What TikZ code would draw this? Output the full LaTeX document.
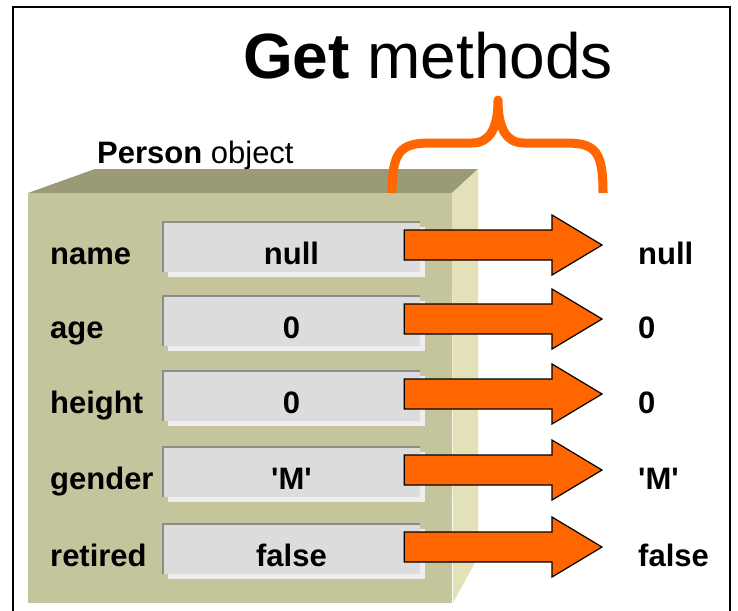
\documentclass[tikz,border=0pt]{standalone}
\usepackage{fontspec}
\setmainfont{Liberation Sans}
\definecolor{boxfront}{HTML}{C4C59D}
\definecolor{boxtop}{HTML}{9A9A79}
\definecolor{boxside}{HTML}{E2E1B7}
\definecolor{slotgrey}{HTML}{DCDCDC}
\definecolor{slotedge}{HTML}{8C8C8C}
\definecolor{slotshade}{HTML}{EEEEEE}
\definecolor{getorange}{HTML}{FF6600}
\tikzset{
  field/.style={font=\fontsize{31}{31}\selectfont\bfseries, inner sep=0pt, text height=34pt, text depth=0pt},
  slot/.style={field, fill=slotgrey, minimum width=257pt, minimum height=50pt},
  blockarrow/.style={fill=getorange, draw=black, line width=1.2pt, line join=miter},
}

\begin{document}
\begin{tikzpicture}[x=1pt,y=-1pt]
  \useasboundingbox (0,0) rectangle (738,610);
  \draw[line width=2.5pt] (13,612) -- (13,7) -- (730,7) -- (730,612);
  \node[anchor=base, inner sep=0pt, font=\fontsize{64}{64}\selectfont] (title) at (428,78) {\textbf{Get} methods};
  \node[anchor=base west, inner sep=0pt, font=\fontsize{31}{31}\selectfont] (obj) at (97,163) {\textbf{Person} object};
  \fill[boxtop] (28,193) -- (95,169) -- (478,169) -- (452,193) -- cycle;
  \fill[boxside] (452,193) -- (478,169) -- (478,557) -- (453,603) -- cycle;
  \fill[boxfront] (28,193) rectangle (452,603);
  \foreach \y/\n/\v [count=\i] in {247/name/null, 321/age/0, 396/height/0, 472/gender/{\textquotesingle M\textquotesingle}, 549/retired/false} {
    \fill[slotshade] (168,\y-20) rectangle (425,\y+30);
    \node[slot] (s\i) at (291.5,\y) {\v};
    \draw[slotedge, line width=2pt] (s\i.south west) -- (s\i.north west) -- (s\i.north east);
    \node[field, anchor=west] (l\i) at (50,\y) {\n};
    \node[field, anchor=west] (v\i) at (638,\y) {\v};
    \coordinate (t\i) at (602,\y-2);
    \coordinate (a\i) at (t\i -| s\i.east);
    \draw[blockarrow] ([xshift=-16pt,yshift=15pt]a\i) -- ([xshift=-50pt,yshift=15pt]t\i) -- ([xshift=-50pt,yshift=30pt]t\i) -- (t\i)
      -- ([xshift=-50pt,yshift=-30pt]t\i) -- ([xshift=-50pt,yshift=-15pt]t\i) -- ([xshift=-16pt,yshift=-15pt]a\i) -- cycle;
  }
  \draw[getorange, line width=9pt, line join=round] (392,193) .. controls (392,152) and (400,143) .. (430,143) -- (472,143)
    .. controls (490,143) and (498,128) .. (498,100) .. controls (498,128) and (506,143) .. (524,143) -- (566,143)
    .. controls (596,143) and (603,152) .. (603,193);
\end{tikzpicture}
\end{document}
